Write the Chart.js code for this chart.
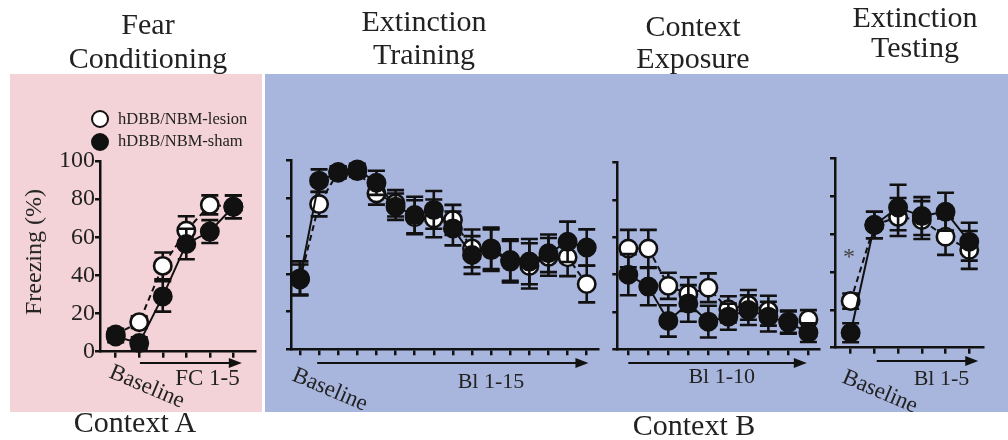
<!DOCTYPE html>
<html>
<head>
<meta charset="utf-8">
<script src="https://cdn.jsdelivr.net/npm/chart.js@4.4.0/dist/chart.umd.min.js"></script>
<style>
  html, body { margin: 0; padding: 0; background: #fff; }
  body {
    width: 1008px; height: 440px; position: relative; overflow: hidden;
    font-family: 'Liberation Serif', 'Times New Roman', serif; color: #222;
  }
  .bg { position: absolute; }
  canvas { position: absolute; left: 0; top: 0; }
  .lbl { position: absolute; white-space: nowrap; }
  .dot { position: absolute; box-sizing: border-box; width: 18px; height: 18px; border: 2.6px solid #111; border-radius: 50%; }
</style>
</head>
<body>
<div class="bg" style="left:10px;top:74px;width:252px;height:338px;background:#f4d3d8"></div>
<div class="bg" style="left:265px;top:74px;width:743px;height:338px;background:#a8b5dd"></div>
<canvas id="chart-fc" width="1008" height="440"></canvas>
<canvas id="chart-ext" width="1008" height="440"></canvas>
<canvas id="chart-ctx" width="1008" height="440"></canvas>
<canvas id="chart-test" width="1008" height="440"></canvas>
<div class="dot" style="left:91px;top:110px;background:#fff"></div>
<div class="dot" style="left:91px;top:133px;background:#111"></div>

<script>
// Freezing (%) per session. Index 0 is the baseline.
const fcBlocks = ['Baseline', 'FC 1', 'FC 2', 'FC 3', 'FC 4', 'FC 5'];
const fcLesion = [9, 15.5, 45, 63.5, 77, 76];
const fcLesionErr = [3, 3, 7, 7.5, 5, 6];
const fcSham = [8, 4.5, 29, 56.5, 63, 76];
const fcShamErr = [3, 3, 8, 8, 6, 6];

const extBlocks = ['Baseline', 'Bl 1', 'Bl 2', 'Bl 3', 'Bl 4', 'Bl 5', 'Bl 6', 'Bl 7', 'Bl 8', 'Bl 9', 'Bl 10', 'Bl 11', 'Bl 12', 'Bl 13', 'Bl 14', 'Bl 15'];
const extLesion = [37, 77, 94, 94.5, 82.7, 77.4, 70, 69.4, 68.6, 53.5, 52.6, 46.5, 44.2, 49, 48.8, 34.6];
const extLesionErr = [8, 6.5, 3, 3, 6, 7, 9, 10, 8, 10, 11, 11, 12, 10, 10, 9.7];
const extSham = [37.6, 89.4, 93.6, 95.4, 88.3, 75.6, 71.2, 73.9, 64.1, 50, 53.5, 47.3, 46.5, 50.9, 57, 54];
const extShamErr = [9, 6, 3, 3, 6.4, 7, 9.7, 10, 9, 10, 11, 11, 12, 10, 10.7, 9.6];

const ctxBlocks = ['Bl 1', 'Bl 2', 'Bl 3', 'Bl 4', 'Bl 5', 'Bl 6', 'Bl 7', 'Bl 8', 'Bl 9', 'Bl 10'];
const ctxLesion = [54, 54, 34, 29.6, 33, 21.4, 23.8, 20.7, 14.8, 16];
const ctxLesionErr = [10, 10, 7, 9, 7.7, 7, 8, 8, 6, 5];
const ctxSham = [40, 33.6, 15.2, 24.6, 14.8, 17.5, 21, 17.5, 14.3, 8.9];
const ctxShamErr = [11, 10, 8.4, 9.8, 8.5, 7, 8, 8, 6, 5];

const testBlocks = ['Baseline', 'Bl 1', 'Bl 2', 'Bl 3', 'Bl 4', 'Bl 5'];
const testLesion = [24.6, 64.8, 69, 67.4, 58.6, 51.6];
const testLesionErr = [4, 7, 10, 10, 9.6, 10];
const testSham = [7.9, 64.8, 74, 69.5, 71.8, 56];
const testShamErr = [5, 7, 12, 10, 10, 10];

const yTicks = [0, 20, 40, 60, 80, 100];

const INK = '#111';
Chart.defaults.font.family = "'Liberation Serif', 'Times New Roman', serif";

// Error bars go down just before each series, so its own symbols cover them.
const errorBars = {
  id: 'errorBars',
  beforeDatasetDraw(chart, args) {
    const ds = chart.data.datasets[args.index];
    if (!ds.errors) return;
    const { x, y } = chart.scales;
    const ctx = chart.ctx;
    ctx.save();
    ctx.strokeStyle = INK;
    ctx.lineWidth = 2.6;
    ds.data.forEach((pt, i) => {
      const px = x.getPixelForValue(pt.x);
      const top = y.getPixelForValue(pt.y + ds.errors[i]);
      const bot = y.getPixelForValue(pt.y - ds.errors[i]);
      ctx.beginPath();
      ctx.moveTo(px, top); ctx.lineTo(px, bot);
      ctx.moveTo(px - 8.5, top); ctx.lineTo(px + 8.5, top);
      ctx.moveTo(px - 8.5, bot); ctx.lineTo(px + 8.5, bot);
      ctx.stroke();
    });
    ctx.restore();
  },
};

// Block arrow under the x axis.
const blockArrow = {
  id: 'blockArrow',
  afterDraw(chart, args, opts) {
    if (opts.from == null) return;
    const x = chart.scales.x;
    const ctx = chart.ctx;
    const x0 = x.getPixelForValue(opts.from);
    const x1 = x.getPixelForValue(opts.to);
    ctx.save();
    ctx.strokeStyle = INK;
    ctx.fillStyle = INK;
    ctx.lineWidth = 2;
    ctx.beginPath();
    ctx.moveTo(x0, opts.y); ctx.lineTo(x1 - 10, opts.y);
    ctx.stroke();
    ctx.beginPath();
    ctx.moveTo(x1, opts.y);
    ctx.lineTo(x1 - 13, opts.y - 5);
    ctx.lineTo(x1 - 13, opts.y + 5);
    ctx.closePath();
    ctx.fill();
    ctx.restore();
  },
};

function toPoints(values) {
  return values.map((v, i) => ({ x: i, y: v }));
}

function series(label, values, errors, filled) {
  return {
    label,
    data: toPoints(values),
    errors,
    order: filled ? 1 : 2,
    borderColor: INK,
    borderWidth: 2,
    borderDash: filled ? [] : [6, 4],
    pointRadius: 8.7,
    pointBackgroundColor: filled ? INK : '#fff',
    pointBorderColor: INK,
    pointBorderWidth: 2.6,
    clip: false,
  };
}

// area: plot rectangle in page pixels, xRange: value range that spans it.
function renderPanel(id, blocks, lesion, lesionErr, sham, shamErr, area, xRange, arrow, showYLabels) {
  const canvas = document.getElementById(id);
  const yAxisW = 50;
  const xAxisH = 10;

  return new Chart(canvas.getContext('2d'), {
    type: 'line',
    data: {
      datasets: [
        series('hDBB/NBM-lesion', lesion, lesionErr, false),
        series('hDBB/NBM-sham', sham, shamErr, true),
      ],
    },
    plugins: [errorBars, blockArrow],
    options: {
      responsive: false,
      animation: false,
      events: [],
      layout: {
        padding: {
          left: area.left - yAxisW,
          top: area.top,
          right: canvas.width - area.right,
          bottom: canvas.height - area.bottom - xAxisH,
        },
      },
      plugins: {
        legend: { display: false },
        tooltip: { enabled: false },
        blockArrow: arrow,
      },
      scales: {
        x: {
          type: 'linear',
          min: xRange[0],
          max: xRange[1],
          afterBuildTicks: (scale) => { scale.ticks = blocks.map((_, i) => ({ value: i })); },
          afterFit: (scale) => { scale.height = xAxisH; },
          ticks: { display: false },
          grid: { drawOnChartArea: false, drawTicks: true, tickLength: 6, color: INK, lineWidth: 2.5 },
          border: { display: true, color: INK, width: 2.5 },
        },
        y: {
          type: 'linear',
          min: 0,
          max: 100,
          afterBuildTicks: (scale) => { scale.ticks = yTicks.map((v) => ({ value: v })); },
          afterFit: (scale) => { scale.width = yAxisW; },
          ticks: { display: showYLabels, color: '#222', padding: 0, font: { size: 24 } },
          grid: { drawOnChartArea: false, drawTicks: true, tickLength: 5, color: INK, lineWidth: 2.5 },
          border: { display: true, color: INK, width: 2.5 },
        },
      },
    },
  });
}

renderPanel('chart-fc', fcBlocks, fcLesion, fcLesionErr, fcSham, fcShamErr,
  { left: 100, top: 161, right: 255, bottom: 351.7 }, [-0.667, 5.92],
  { from: 1.03, to: 5.36, y: 363 }, true);
renderPanel('chart-ext', extBlocks, extLesion, extLesionErr, extSham, extShamErr,
  { left: 291, top: 160.7, right: 598, bottom: 349.3 }, [-0.47, 15.59],
  { from: 0.9, to: 15.09, y: 363 }, false);
renderPanel('chart-ctx', ctxBlocks, ctxLesion, ctxLesionErr, ctxSham, ctxShamErr,
  { left: 617.3, top: 162.7, right: 819, bottom: 349.3 }, [-0.55, 9.53],
  { from: 0, to: 8.92, y: 363 }, false);
renderPanel('chart-test', testBlocks, testLesion, testLesionErr, testSham, testShamErr,
  { left: 835, top: 158.3, right: 983, bottom: 347.7 }, [-0.66, 5.58],
  { from: 1.1, to: 5.38, y: 361 }, false);

// Text labels. y is the baseline; Liberation Serif puts it 0.8375em below the box top.
function addLabel(text, x, baseline, size, opts = {}) {
  const el = document.createElement('div');
  el.className = 'lbl';
  el.textContent = text;
  el.style.fontSize = `${size}px`;
  el.style.lineHeight = `${size}px`;
  el.style.left = `${x}px`;
  el.style.top = `${baseline - 0.8375 * size}px`;
  if (opts.color) el.style.color = opts.color;
  if (opts.center) el.style.transform = 'translateX(-50%)';
  if (opts.rotate) {
    el.style.transformOrigin = `0 ${0.8375 * size}px`;
    el.style.transform = `rotate(${opts.rotate}deg)`;
  }
  document.body.appendChild(el);
  return el;
}

addLabel('Fear', 148, 34.5, 30, { center: true });
addLabel('Conditioning', 148, 68, 30, { center: true });
addLabel('Extinction', 424, 31, 30, { center: true });
addLabel('Training', 424, 64, 30, { center: true });
addLabel('Context', 693, 36, 30, { center: true });
addLabel('Exposure', 693, 68, 30, { center: true });
addLabel('Extinction', 915, 27, 30, { center: true });
addLabel('Testing', 915, 57, 30, { center: true });

addLabel('hDBB/NBM-lesion', 118, 125, 16.5);
addLabel('hDBB/NBM-sham', 118, 146.7, 16.5);

const yTitle = document.createElement('div');
yTitle.className = 'lbl';
yTitle.textContent = 'Freezing (%)';
yTitle.style.cssText += 'font-size:24px;line-height:24px;left:33px;top:252px;transform:translate(-50%,-50%) rotate(-90deg);';
document.body.appendChild(yTitle);

addLabel('Baseline', 108, 377, 23, { rotate: 23 });
addLabel('Baseline', 291, 380, 23, { rotate: 23 });
addLabel('Baseline', 841, 382, 23, { rotate: 23 });

addLabel('FC 1-5', 207.5, 385, 23, { center: true });
addLabel('Bl 1-15', 491, 388, 22, { center: true });
addLabel('Bl 1-10', 721.7, 383, 22, { center: true });
addLabel('Bl 1-5', 941.5, 385, 22, { center: true });

addLabel('*', 849, 264, 24, { center: true, color: '#444' });

addLabel('Context A', 135, 432, 30, { center: true });
addLabel('Context B', 694, 435, 30, { center: true });
</script>
</body>
</html>
